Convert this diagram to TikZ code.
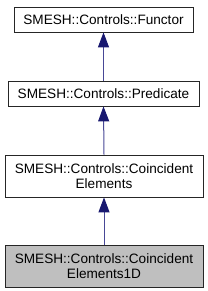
\documentclass[tikz,border=0pt]{standalone}
\usepackage{fontspec}
\setmainfont{Liberation Sans}
\usetikzlibrary{arrows.meta}
\definecolor{edgeblue}{RGB}{25,25,112}
\definecolor{edgeline}{RGB}{72,72,150}
\begin{document}
\begin{tikzpicture}[x=1pt,y=-1pt,line width=.8pt,
  every node/.style={font=\fontsize{13.6}{15.5}\selectfont,inner sep=0pt,align=center},
  cls/.style={draw=black!85,fill=white,minimum height=25pt},
  cls2/.style={cls,minimum height=42pt,minimum width=198pt},
  inherit/.style={draw=edgeline,line width=1pt,-{Triangle[length=15pt,width=11pt,fill=edgeblue,color=edgeblue]}}]
  \path[use as bounding box] (0,0) rectangle (208,291);
  \node[cls,minimum width=179pt] (functor) at (103.5,19.5) {SMESH::Controls::Functor};
  \node[cls,minimum width=191pt] (predicate) at (103.5,93.5) {SMESH::Controls::Predicate};
  \node[cls2] (coinc) at (104,176) {SMESH::Controls::Coincident\\Elements};
  \node[cls2,fill=black!25] (coinc1d) at (104,266) {SMESH::Controls::Coincident\\Elements1D};
  \draw[inherit] (predicate.north) -- (functor.south);
  \draw[inherit] (coinc.north) -- (predicate.south);
  \draw[inherit] (coinc1d.north) -- (coinc.south);
\end{tikzpicture}
\end{document}
